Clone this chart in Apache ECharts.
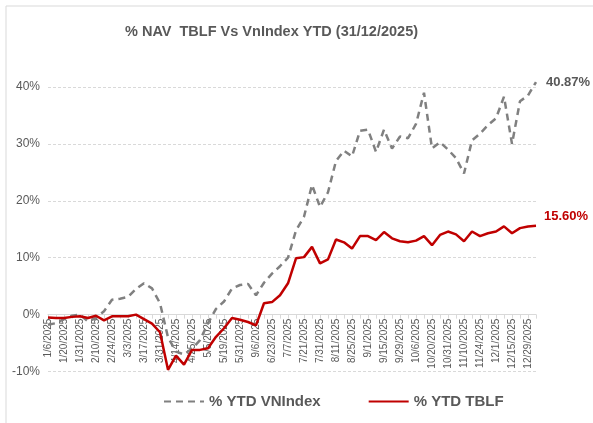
<!DOCTYPE html>
<html>
<head>
<meta charset="utf-8">
<script src="https://cdn.jsdelivr.net/npm/echarts@6/dist/echarts.min.js"></script>
<style>
  html, body { margin: 0; padding: 0; background: #fff; }
  #chart { width: 593px; height: 423px; }
</style>
</head>
<body>
<div id="chart"></div>
<script>
// weekly dates (every other one is shown on the axis)
var dates = [
  '1/6/2025', '1/13/2025', '1/20/2025', '1/24/2025', '1/31/2025', '2/7/2025',
  '2/10/2025', '2/17/2025', '2/24/2025', '2/28/2025', '3/3/2025', '3/10/2025',
  '3/17/2025', '3/24/2025', '3/31/2025', '4/7/2025', '4/14/2025', '4/21/2025',
  '4/25/2025', '5/2/2025', '5/5/2025', '5/12/2025', '5/19/2025', '5/26/2025',
  '5/31/2025', '6/2/2025', '9/6/2025', '6/16/2025', '6/23/2025', '6/30/2025',
  '7/7/2025', '7/14/2025', '7/21/2025', '7/28/2025', '7/31/2025', '8/4/2025',
  '8/11/2025', '8/18/2025', '8/25/2025', '8/29/2025', '9/1/2025', '9/8/2025',
  '9/15/2025', '9/22/2025', '9/29/2025', '10/3/2025', '10/6/2025', '10/13/2025',
  '10/20/2025', '10/27/2025', '10/31/2025', '11/3/2025', '11/10/2025', '11/17/2025',
  '11/24/2025', '11/28/2025', '12/1/2025', '12/8/2025', '12/15/2025', '12/22/2025',
  '12/29/2025', '12/31/2025'
];

var vnindex = [
  -1.8, -1.5, -0.8, -0.2, 0.0, -1.2, -0.6, 0.6, 2.6, 2.8, 3.1, 4.5,
  5.5, 4.6, 2.0, -4.0, -6.5, -7.0, -6.0, -4.5, -1.5, 1.0, 2.3, 4.6,
  5.2, 5.4, 3.4, 5.6, 7.2, 8.5, 10.0, 14.8, 17.2, 22.8, 18.9, 21.5,
  27.0, 28.8, 27.8, 32.3, 32.5, 28.6, 32.5, 29.2, 31.3, 31.0, 33.5, 39.0,
  29.2, 30.3, 29.0, 27.5, 24.8, 30.6, 31.8, 33.3, 34.5, 38.3, 30.0, 37.5,
  38.5, 40.87
];

var tblf = [
  -0.5, -0.6, -0.6, -0.4, -0.3, -0.6, -0.2, -1.0, -0.3, -0.3, -0.3, 0.0,
  -0.8, -1.6, -3.1, -9.7, -7.2, -8.8, -6.2, -6.2, -5.9, -3.9, -2.4, -0.6,
  -0.9, -1.3, -1.9, 2.0, 2.2, 3.4, 5.5, 9.9, 10.1, 11.9, 9.0, 9.7,
  13.2, 12.7, 11.6, 13.8, 13.8, 13.1, 14.5, 13.4, 12.9, 12.7, 13.0, 13.8,
  12.2, 14.0, 14.6, 14.1, 12.9, 14.6, 13.8, 14.3, 14.6, 15.5, 14.3, 15.2,
  15.5, 15.6
];

var txt = '#595959';
var font = 'Liberation Sans, Arial, sans-serif';

var gridTop = 87, gridBottom = 51.5;
var plotH = 423 - gridTop - gridBottom;
// the date axis sits on the 0% line (range -10..40)
var zeroOffset = -plotH * 10 / 50;

var myChart = echarts.init(document.getElementById('chart'), null, { renderer: 'canvas' });

var option = {
  backgroundColor: '#fff',
  animation: false,
  textStyle: { fontFamily: font },
  graphic: [{
    type: 'rect',
    shape: { x: 6, y: 6, width: 620, height: 440 },
    style: { fill: 'none', stroke: '#d9d9d9', lineWidth: 1 },
    silent: true
  }],
  title: {
    text: '% NAV  TBLF Vs VnIndex YTD (31/12/2025)',
    left: 120,
    top: 19,
    textStyle: { color: txt, fontSize: 14.5, fontWeight: 'bold', fontFamily: font }
  },
  legend: {
    bottom: 9,
    left: 158,
    itemWidth: 40,
    itemHeight: 10,
    itemGap: 47,
    itemStyle: { opacity: 0 },
    textStyle: { color: txt, fontSize: 15, fontWeight: 'bold', fontFamily: font },
    data: ['% YTD VNIndex', '% YTD TBLF']
  },
  grid: { left: 48, right: 57, top: gridTop, bottom: gridBottom, outerBoundsMode: 'none' },
  xAxis: {
    type: 'category',
    data: dates,
    boundaryGap: false,
    offset: zeroOffset,
    axisLine: { onZero: false, lineStyle: { color: '#d9d9d9', width: 1 } },
    axisTick: { show: true, interval: 0, length: 4, lineStyle: { color: '#d9d9d9' } },
    axisLabel: {
      interval: 1,
      rotate: 90,
      color: txt,
      fontSize: 10,
      margin: 4,
      fontFamily: font
    },
    splitLine: { show: false }
  },
  yAxis: {
    type: 'value',
    min: -10,
    max: 40,
    interval: 10,
    axisLine: { show: false },
    axisTick: { show: false },
    axisLabel: {
      color: txt,
      fontSize: 12,
      margin: 8,
      fontFamily: font,
      formatter: function (v) { return v + '%'; }
    },
    splitLine: { lineStyle: { color: '#d9d9d9', type: [3, 2] } }
  },
  series: [{
    name: '% YTD VNIndex',
    type: 'line',
    data: vnindex,
    symbol: 'none',
    clip: false,
    lineStyle: { color: '#808080', width: 2.5, type: [7, 5] },
    itemStyle: { color: '#808080' },
    endLabel: {
      show: true,
      distance: 10,
      color: txt,
      fontSize: 13,
      fontWeight: 'bold',
      fontFamily: font,
      formatter: function (p) { return p.value.toFixed(2) + '%'; }
    },
    z: 2
  }, {
    name: '% YTD TBLF',
    type: 'line',
    data: tblf,
    symbol: 'none',
    clip: false,
    lineStyle: { color: '#c00000', width: 2.5 },
    itemStyle: { color: '#c00000' },
    endLabel: {
      show: true,
      distance: 8,
      offset: [0, -9],
      color: '#c00000',
      fontSize: 13,
      fontWeight: 'bold',
      fontFamily: font,
      formatter: function (p) { return p.value.toFixed(2) + '%'; }
    },
    z: 3
  }]
};

myChart.setOption(option);
window.addEventListener('resize', myChart.resize);
</script>
</body>
</html>
